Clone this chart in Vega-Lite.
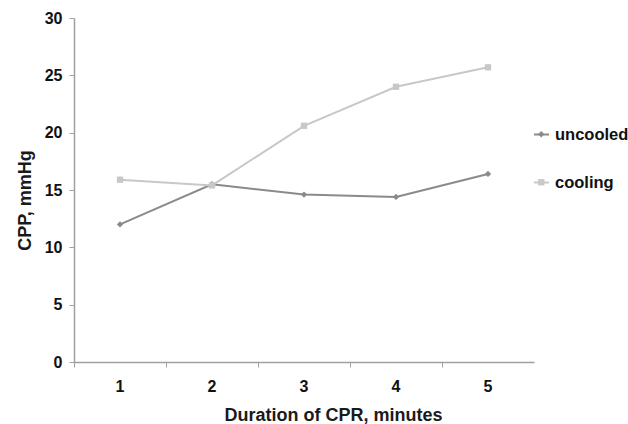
{
  "$schema": "https://vega.github.io/schema/vega-lite/v6.json",
  "autosize": {"type": "none"},
  "padding": {"left": 74, "top": 18, "right": 94, "bottom": 62},
  "width": 460,
  "height": 344,
  "background": "white",
  "config": {
    "view": {"stroke": null},
    "font": "Liberation Sans",
    "axis": {
      "grid": false,
      "domainColor": "#a0a0a0",
      "tickColor": "#a0a0a0",
      "domainWidth": 1.5,
      "tickSize": 5,
      "labelFont": "Liberation Sans",
      "labelFontWeight": "bold",
      "labelFontSize": 16,
      "labelColor": "#111",
      "titleFont": "Liberation Sans",
      "titleFontWeight": "bold",
      "titleFontSize": 18,
      "titleColor": "#1a1a1a"
    }
  },
  "data": {
    "values": [
      {"minute": "1", "series": "uncooled", "marker": "uncooled marker", "cpp": 12.0},
      {"minute": "2", "series": "uncooled", "marker": "uncooled marker", "cpp": 15.5},
      {"minute": "3", "series": "uncooled", "marker": "uncooled marker", "cpp": 14.6},
      {"minute": "4", "series": "uncooled", "marker": "uncooled marker", "cpp": 14.4},
      {"minute": "5", "series": "uncooled", "marker": "uncooled marker", "cpp": 16.4},
      {"minute": "1", "series": "cooling", "marker": "cooling marker", "cpp": 15.9},
      {"minute": "2", "series": "cooling", "marker": "cooling marker", "cpp": 15.4},
      {"minute": "3", "series": "cooling", "marker": "cooling marker", "cpp": 20.6},
      {"minute": "4", "series": "cooling", "marker": "cooling marker", "cpp": 24.0},
      {"minute": "5", "series": "cooling", "marker": "cooling marker", "cpp": 25.7}
    ]
  },
  "encoding": {
    "x": {
      "field": "minute",
      "type": "ordinal",
      "scale": {"type": "band", "paddingInner": 0, "paddingOuter": 0},
      "axis": {"title": "Duration of CPR, minutes", "labelAngle": 0, "bandPosition": 0, "labelPadding": 11, "titlePadding": 12, "titleX": 259}
    },
    "y": {
      "field": "cpp",
      "type": "quantitative",
      "scale": {"domain": [0, 30]},
      "axis": {"title": "CPP, mmHg", "values": [0, 5, 10, 15, 20, 25, 30], "labelPadding": 7, "titlePadding": 10, "titleY": 182}
    }
  },
  "layer": [
    {
      "mark": {"type": "line", "strokeWidth": 2},
      "encoding": {
        "x": {"field": "minute", "type": "ordinal", "bandPosition": 0.5},
        "stroke": {
          "field": "series",
          "type": "nominal",
          "scale": {"domain": ["uncooled", "cooling"], "range": ["#8a8a8a", "#c8c8c8"]},
          "legend": {
            "title": null,
            "orient": "none",
            "legendX": 459,
            "legendY": 108,
            "padding": 0,
            "rowPadding": 31,
            "labelFont": "Liberation Sans",
            "labelFontWeight": "bold",
            "labelFontSize": 16.5,
            "labelColor": "#111",
            "labelOffset": 5,
            "symbolSize": 225,
            "symbolStrokeWidth": 2
          }
        }
      }
    },
    {
      "mark": {"type": "point", "filled": true, "opacity": 1},
      "encoding": {
        "x": {"field": "minute", "type": "ordinal", "bandPosition": 0.5},
        "fill": {
          "field": "marker",
          "type": "nominal",
          "scale": {"domain": ["uncooled marker", "cooling marker"], "range": ["#8a8a8a", "#c8c8c8"]},
          "legend": {
            "title": null,
            "orient": "none",
            "legendX": 459,
            "legendY": 108,
            "padding": 0,
            "rowPadding": 31,
            "labelFont": "Liberation Sans",
            "labelFontWeight": "bold",
            "labelFontSize": 16.5,
            "labelExpr": "''",
            "labelOffset": 2,
            "symbolSize": 40
          }
        },
        "shape": {
          "field": "marker",
          "type": "nominal",
          "scale": {"domain": ["uncooled marker", "cooling marker"], "range": ["diamond", "square"]}
        },
        "size": {"value": 40}
      }
    }
  ]
}
